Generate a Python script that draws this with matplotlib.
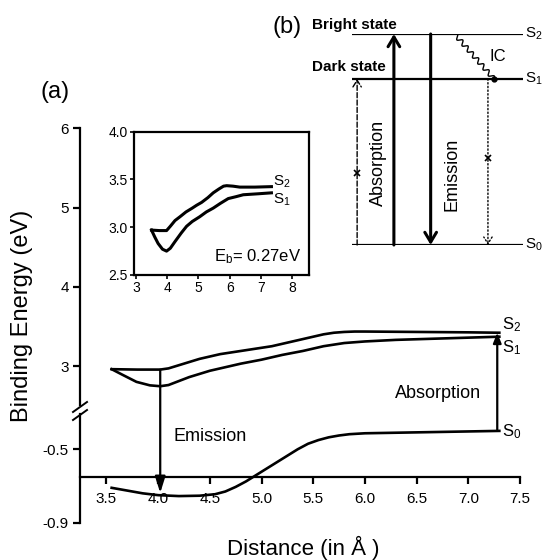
import numpy as np
import matplotlib.pyplot as plt
from matplotlib.patches import ConnectionPatch
from matplotlib.lines import Line2D

plt.rcParams['font.family'] = ['Liberation Sans', 'DejaVu Sans']
plt.rcParams['mathtext.default'] = 'regular'
plt.rcParams['axes.unicode_minus'] = False

# ---------------------------
# data
# ---------------------------
# main panel (a): excited states (upper part of broken axis)
dist_s2 = [3.55, 3.8, 4.02, 4.1, 4.2, 4.3, 4.4, 4.5, 4.6, 4.7, 4.8, 4.9, 5.0, 5.1, 5.2,
           5.3, 5.4, 5.5, 5.6, 5.7, 5.8, 5.9, 6.0, 6.5, 7.0, 7.3]
e_s2 = [2.96, 2.955, 2.955, 2.97, 3.01, 3.05, 3.09, 3.12, 3.15, 3.17, 3.19, 3.21, 3.23, 3.25, 3.28,
        3.31, 3.34, 3.37, 3.40, 3.42, 3.43, 3.435, 3.435, 3.43, 3.425, 3.42]
dist_s1 = [3.55, 3.66, 3.79, 3.92, 4.02, 4.1, 4.2, 4.3, 4.4, 4.5, 4.6, 4.7, 4.8, 5.0, 5.2,
           5.4, 5.6, 5.8, 6.0, 6.3, 6.8, 7.3]
e_s1 = [2.96, 2.886, 2.80, 2.756, 2.745, 2.76, 2.81, 2.86, 2.90, 2.94, 2.97, 3.00, 3.03, 3.08, 3.14,
        3.19, 3.25, 3.29, 3.31, 3.33, 3.35, 3.37]
# ground state (lower part of broken axis)
dist_s0 = [3.55, 3.7, 3.85, 4.0, 4.2, 4.4, 4.55, 4.65, 4.75, 4.85, 4.95, 5.05, 5.15, 5.25,
           5.35, 5.45, 5.55, 5.65, 5.75, 5.85, 6.0, 6.5, 7.0, 7.3]
e_s0 = [-0.71, -0.725, -0.74, -0.75, -0.755, -0.753, -0.745, -0.73, -0.705, -0.675, -0.64, -0.605,
        -0.57, -0.535, -0.50, -0.47, -0.45, -0.435, -0.425, -0.418, -0.413, -0.408, -0.403, -0.40]

# inset
ins_dist_s2 = [3.50, 3.75, 3.98, 4.1, 4.25, 4.41, 4.6, 4.8, 4.94, 5.1, 5.3, 5.47, 5.65, 5.8,
               5.9, 6.1, 6.32, 6.8, 7.33]
ins_e_s2 = [2.97, 2.965, 2.965, 3.01, 3.07, 3.11, 3.16, 3.20, 3.23, 3.26, 3.31, 3.36, 3.40, 3.43,
            3.435, 3.43, 3.42, 3.42, 3.425]
ins_dist_s1 = [3.50, 3.6, 3.71, 3.85, 3.98, 4.1, 4.25, 4.45, 4.62, 4.8, 5.04, 5.25, 5.47, 5.7,
               5.95, 6.2, 6.43, 6.9, 7.33]
ins_e_s1 = [2.97, 2.90, 2.83, 2.77, 2.75, 2.78, 2.85, 2.94, 3.01, 3.06, 3.11, 3.16, 3.20, 3.25,
            3.30, 3.32, 3.34, 3.35, 3.36]

x_ticks = [3.5, 4.0, 4.5, 5.0, 5.5, 6.0, 6.5, 7.0, 7.5]
y_ticks_top = [3, 4, 5, 6]
y_ticks_bot = [-0.5, -0.9]
ins_x_ticks = [3, 4, 5, 6, 7, 8]
ins_y_ticks = [2.5, 3.0, 3.5, 4.0]

emission_x = 4.02
absorption_x = 7.28

# panel (b): schematic levels (arbitrary units)
level_names = ['S$_0$', 'S$_1$', 'S$_2$']
level_e = [0.0, 0.787, 1.0]

LW = 1.6
CLW = 1.9   # curve width
W, H = 545, 560

fig = plt.figure(figsize=(W / 100, H / 100), dpi=100)

def fig_box(x0, y0, x1, y1):
    # pixel box (top-left origin) -> figure fraction rect
    return [x0 / W, 1 - y1 / H, (x1 - x0) / W, (y1 - y0) / H]

# ---------------------------
# panel (a) broken axis
# ---------------------------
ax_top = fig.add_axes(fig_box(80, 128.3, 520, 405))
ax_bot = fig.add_axes(fig_box(80, 414, 520, 522.7))

for ax in (ax_top, ax_bot):
    ax.set_xlim(3.244, 7.5)
    ax.patch.set_alpha(0)
    ax.spines['top'].set_visible(False)
    ax.spines['right'].set_visible(False)
    ax.spines['left'].set_linewidth(LW)
    ax.tick_params(direction='out', length=5, width=LW, labelsize=11, pad=3)

ax_top.set_ylim(2.508, 6.0)
ax_top.spines['bottom'].set_visible(False)
ax_top.set_xticks([])
ax_top.set_yticks(y_ticks_top)
ax_top.set_yticklabels([str(v) for v in y_ticks_top])

ax_bot.set_ylim(-0.9, -0.308)
ax_bot.spines['bottom'].set_position(('data', -0.649))
ax_bot.spines['bottom'].set_linewidth(LW)
ax_bot.set_yticks(y_ticks_bot)
ax_bot.set_yticklabels(['%.1f' % v for v in y_ticks_bot])
ax_bot.set_xticks(x_ticks)
ax_bot.set_xticklabels(['%.1f' % v for v in x_ticks])
ax_bot.tick_params(axis='x', pad=6)

ax_top.plot(dist_s2, e_s2, color='k', lw=CLW)
ax_top.plot(dist_s1, e_s1, color='k', lw=CLW)
ax_bot.plot(dist_s0, e_s0, color='k', lw=CLW)

# arrows crossing the break
emis = ConnectionPatch(xyA=(emission_x, e_s2[2]), coordsA=ax_top.transData,
                       xyB=(emission_x, -0.738), coordsB=ax_bot.transData,
                       arrowstyle='-|>,head_length=0.7,head_width=0.22', mutation_scale=14,
                       lw=LW, color='k', shrinkA=0, shrinkB=0)
fig.add_artist(emis)
absn = ConnectionPatch(xyA=(absorption_x, e_s0[-1]), coordsA=ax_bot.transData,
                       xyB=(absorption_x, e_s2[-1]), coordsB=ax_top.transData,
                       arrowstyle='-|>,head_length=0.5,head_width=0.2', mutation_scale=12,
                       lw=LW, color='k', shrinkA=0, shrinkB=0)
fig.add_artist(absn)

ax_bot.text(4.50, -0.431, 'Emission', fontsize=13, ha='center', va='center')
ax_top.text(6.71, 2.655, 'Absorption', fontsize=13, ha='center', va='center')
ax_top.text(7.33, 3.52, 'S$_2$', fontsize=12, ha='left', va='center')
ax_top.text(7.33, 3.23, 'S$_1$', fontsize=12, ha='left', va='center')
ax_bot.text(7.33, -0.404, 'S$_0$', fontsize=12, ha='left', va='center')

# axis break marks
for dy in (0, 8):
    fig.add_artist(Line2D([73 / W, 87 / W], [1 - (412 + dy) / H, 1 - (402 + dy) / H],
                          transform=fig.transFigure, color='k', lw=1.4))

fig.text(55 / W, 1 - 92 / H, '(a)', fontsize=17, ha='center', va='center')
fig.text(22 / W, 1 - 316 / H, 'Binding Energy (eV)', fontsize=17, rotation=90,
         ha='center', va='center')
fig.text(303 / W, 1 - 548 / H, 'Distance (in Å )', fontsize=16, ha='center', va='center')

# ---------------------------
# inset
# ---------------------------
axi = fig.add_axes(fig_box(134, 131.7, 309, 275))
axi.plot(ins_dist_s2, ins_e_s2, color='k', lw=2.2)
axi.plot(ins_dist_s1, ins_e_s1, color='k', lw=2.2)
axi.set_xlim(2.94, 8.53)
axi.set_ylim(2.5, 4.0)
axi.set_xticks(ins_x_ticks)
axi.set_xticklabels([str(v) for v in ins_x_ticks])
axi.set_yticks(ins_y_ticks)
axi.set_yticklabels(['%.1f' % v for v in ins_y_ticks])
for s in axi.spines.values():
    s.set_linewidth(LW)
axi.tick_params(direction='out', length=3, width=1.2, labelsize=10, pad=1.5)
axi.text(7.38, 3.48, 'S$_2$', fontsize=11, ha='left', va='center')
axi.text(7.38, 3.29, 'S$_1$', fontsize=11, ha='left', va='center')
axi.text(0.955, 0.126, 'E$_b$= 0.27eV', fontsize=12, ha='right', va='center',
         transform=axi.transAxes)

# ---------------------------
# panel (b) level scheme
# ---------------------------
axb = fig.add_axes(fig_box(352, 34, 523, 245))
axb.set_xlim(0, 1)
axb.set_ylim(0, 1)
axb.axis('off')

for name, e in zip(level_names, level_e):
    axb.plot([0, 1], [e, e], color='k', lw=LW, solid_capstyle='butt')
    axb.text(1.01, e, name, fontsize=11, ha='left', va='center', clip_on=False)

def arrow(x, y0, y1, **kw):
    axb.annotate('', xy=(x, y1), xytext=(x, y0),
                 arrowprops=dict(shrinkA=0, shrinkB=0, **kw))

arrow(0.245, level_e[0], level_e[2], arrowstyle='->,head_length=0.5,head_width=0.3',
      lw=2.2, color='k', mutation_scale=14)
arrow(0.46, level_e[2], level_e[0], arrowstyle='->,head_length=0.5,head_width=0.3',
      lw=2.2, color='k', mutation_scale=14)
arrow(0.03, level_e[0], level_e[1], arrowstyle='->,head_length=0.4,head_width=0.25',
      lw=1.0, ls='--', color='k', mutation_scale=12)
arrow(0.795, level_e[1], level_e[0], arrowstyle='->,head_length=0.4,head_width=0.25',
      lw=1.0, ls=':', color='k', mutation_scale=12)
axb.plot([0.03], [0.34], marker='x', color='k', ms=4, mew=1.2)
axb.plot([0.795], [0.41], marker='x', color='k', ms=4, mew=1.2)

# wavy internal-conversion line, built in pixel space of the axes
bw, bh = 171.0, 211.0
p0 = np.array([0.60 * bw, 1.0 * bh])
p1 = np.array([0.83 * bw, level_e[1] * bh])
t = np.linspace(0, 1, 200)
d = p1 - p0
nrm = np.array([-d[1], d[0]]) / np.hypot(*d)
wave = 2.2 * np.sin(2 * np.pi * 7.5 * t)
pts = p0[None, :] + t[:, None] * d[None, :] + wave[:, None] * nrm[None, :]
axb.plot(pts[:, 0] / bw, pts[:, 1] / bh, color='k', lw=1.0)
axb.plot([0.83], [level_e[1]], marker='o', color='k', ms=3.5)

axb.text(0.854, 0.891, 'IC', fontsize=12, ha='center', va='center')
axb.text(0.152, 0.389, 'Absorption', fontsize=13, rotation=90, ha='center', va='center')
axb.text(0.585, 0.334, 'Emission', fontsize=13, rotation=90, ha='center', va='center')
axb.text(-0.234, 1.043, 'Bright state', fontsize=11, fontweight='bold', ha='left',
         va='center', clip_on=False)
axb.text(-0.234, 0.844, 'Dark state', fontsize=11, fontweight='bold', ha='left',
         va='center', clip_on=False)
fig.text(287 / W, 1 - 27 / H, '(b)', fontsize=17, ha='center', va='center')

fig.savefig('out.png', dpi=100)
